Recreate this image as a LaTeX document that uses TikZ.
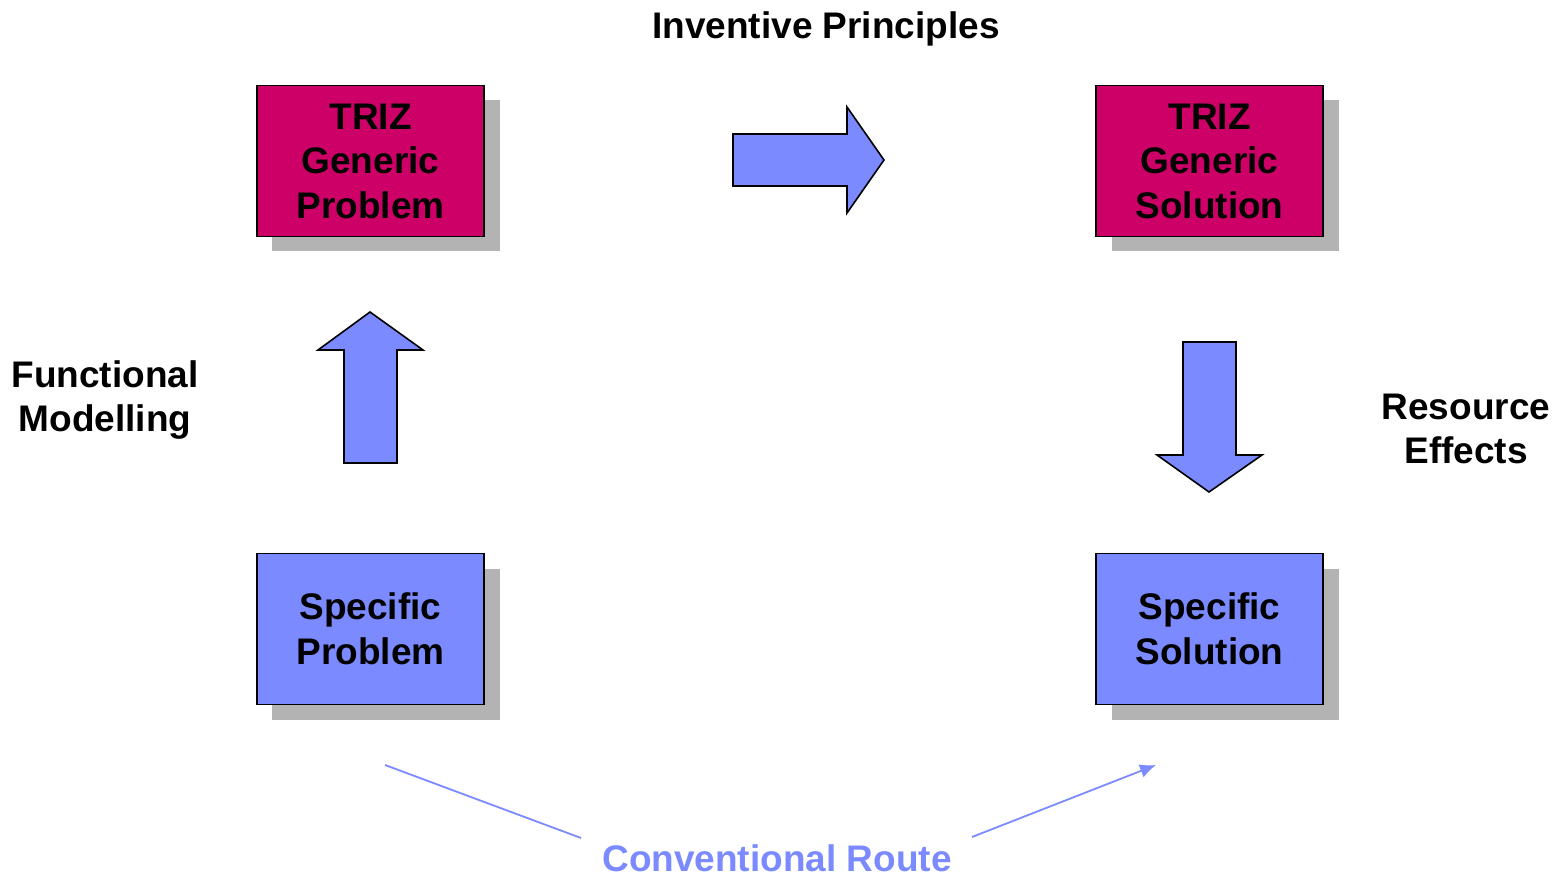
\documentclass[tikz,border=0pt]{standalone}
\usepackage{fontspec}
\setmainfont{Liberation Sans}
\usetikzlibrary{arrows.meta}
\definecolor{triz}{HTML}{CC0066}
\definecolor{spec}{HTML}{7B8BFF}
\definecolor{shadowgray}{HTML}{B3B3B3}
\begin{document}
\begin{tikzpicture}[x=0.5pt,y=-0.5pt,
  boxstyle/.style={draw=black,line width=0.8pt,minimum width=113.5pt,minimum height=75.5pt,inner sep=0pt,align=center,font=\fontsize{18.5}{22.25}\selectfont\bfseries},
  shadowbox/.style={fill=shadowgray,draw=none},
  blockarrow/.style={fill=spec,draw=black,line width=0.8pt,line join=miter},
  lbl/.style={align=center,font=\fontsize{18.5}{22.25}\selectfont\bfseries},
  route/.style={draw=spec,line width=0.9pt}]
\useasboundingbox (0,0) rectangle (1562,876);
% shadows
\path[shadowbox] (272,100) rectangle (500,251);
\path[shadowbox] (1112,100) rectangle (1339,251);
\path[shadowbox] (272,569) rectangle (500,720);
\path[shadowbox] (1112,569) rectangle (1339,720);
% boxes
\node[boxstyle,fill=triz] (gp) at (370.5,161) {TRIZ\\Generic\\Problem};
\node[boxstyle,fill=triz] (gs) at (1209.5,161) {TRIZ\\Generic\\Solution};
\node[boxstyle,fill=spec] (sp) at (370.5,629) {Specific\\Problem};
\node[boxstyle,fill=spec] (ss) at (1209.5,629) {Specific\\Solution};
% block arrows
\draw[blockarrow] (733,134) -- (847,134) -- (847,107) -- (884,160) -- (847,213) -- (847,186) -- (733,186) -- cycle;
\draw[blockarrow] (344,463) -- (344,350) -- (318,350) -- (370,312) -- (423,350) -- (397,350) -- (397,463) -- cycle;
\draw[blockarrow] (1183,342) -- (1236,342) -- (1236,455) -- (1262,455) -- (1209,492) -- (1157,455) -- (1183,455) -- cycle;
% labels
\node[lbl] (ip) at (826,29) {Inventive Principles};
\node[lbl] (fm) at (105,400) {Functional\\Modelling};
\node[lbl] (re) at (1466,429) {Resource\\Effects};
\node[lbl,text=spec] (cr) at (777,858) {Conventional Route};
% conventional route
\coordinate (c1) at (385,765);
\coordinate (c2) at (581,838);
\coordinate (c3) at (972,837);
\coordinate (c4) at (1156,765);
\draw[route] (c1) -- (c2);
\draw[route,-{Latex[length=8pt,width=7pt]}] (c3) -- (c4);
\end{tikzpicture}
\end{document}
